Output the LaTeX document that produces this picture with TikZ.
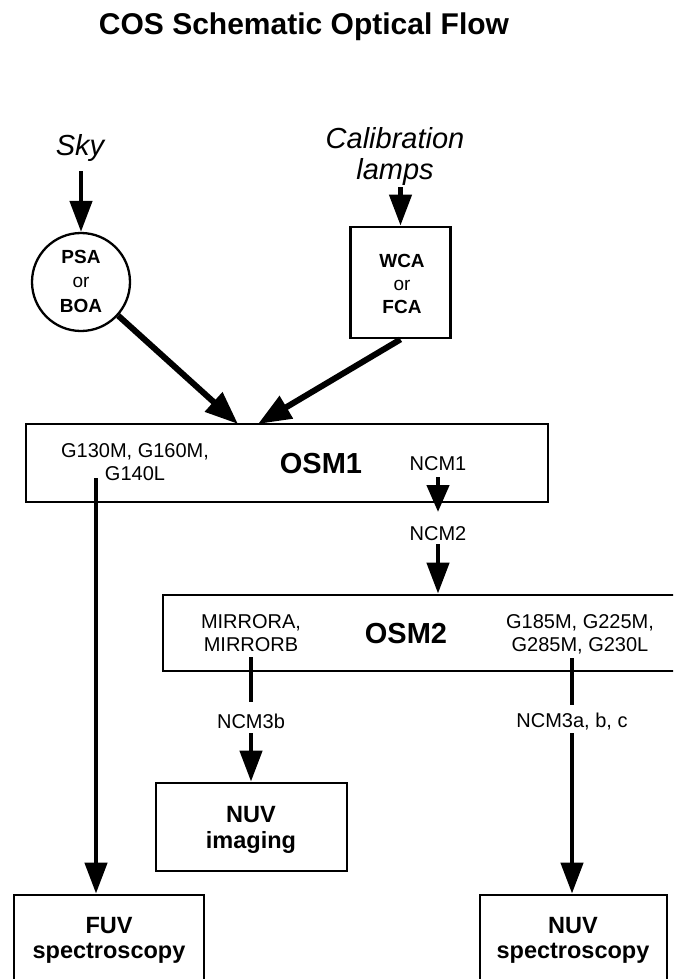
\documentclass[tikz,border=0pt]{standalone}
\usepackage{fontspec}
\setmainfont{Liberation Sans}
\usetikzlibrary{arrows.meta}
\newcommand{\stk}[1]{\begin{tabular}[t]{@{}c@{}}#1\end{tabular}}
\begin{document}
\begin{tikzpicture}[x=1pt,y=-1pt,
  txt/.style={anchor=base, inner sep=0pt},
  small/.style={txt, font=\fontsize{20}{23.5}\selectfont},
  tiny/.style={txt, font=\fontsize{19}{#1}\selectfont},
  big/.style={txt, font=\fontsize{29}{34}\selectfont\bfseries},
  src/.style={txt, font=\fontsize{29}{32}\selectfont\itshape},
  lbl/.style={txt, font=\fontsize{23.5}{#1}\selectfont\bfseries},
  frame/.style={draw, line width=2.8pt, rectangle, inner sep=0pt},
  arr/.style={line width=4.5pt, -{Triangle[length=31pt,width=22pt]}},
  diag/.style={line width=6pt, -{Triangle[length=33pt,width=25pt]}},
  stem/.style={line width=4.5pt}]
\useasboundingbox (0,0) rectangle (673,979);
\clip (0,0) rectangle (673,979);

% title
\node[txt, font=\fontsize{30}{36}\selectfont\bfseries] (title) at (304,35) {COS Schematic Optical Flow};

% sources
\node[src] (sky) at (80,155) {Sky};
\node[src] (cal) at (395,148) {\stk{Calibration\\lamps}};

% apertures
\node[draw, circle, line width=2.3pt, minimum size=98pt, inner sep=0pt] (psa) at (81,282) {};
\node[tiny=24.5] (psatext) at (81,263) {\stk{\textbf{PSA}\\or\\\textbf{BOA}}};
\node[frame, minimum width=100pt, minimum height=111pt] (wca) at (400.5,282.5) {};
\node[tiny=23] (wcatext) at (402,267) {\stk{\textbf{WCA}\\or\\\textbf{FCA}}};

% OSM1
\node[frame, minimum width=522pt, minimum height=78pt] (osm1) at (287,463) {};
\node[small] (g1) at (135,457) {\stk{G130M, G160M,\\G140L}};
\node[big] (osm1text) at (321,473) {OSM1};
\node[small] (ncm1) at (438,470) {NCM1};
\node[small] (ncm2) at (438,540) {NCM2};

% OSM2
\node[frame, minimum width=530pt, minimum height=76pt] (osm2) at (428,633) {};
\node[small] (mir) at (251,628) {\stk{MIRRORA,\\MIRRORB}};
\node[big] (osm2text) at (406,643) {OSM2};
\node[small] (g2) at (580,628) {\stk{G185M, G225M,\\G285M, G230L}};
\node[small] (ncm3b) at (251,728) {NCM3b};
\node[small] (ncm3a) at (572,727) {NCM3a, b, c};

% detectors
\node[frame, minimum width=191pt, minimum height=88pt] (nuvimg) at (251.5,827) {};
\node[lbl=26] (nuvimgtext) at (251,822) {\stk{NUV\\imaging}};
\node[frame, minimum width=190pt, minimum height=100pt] (fuv) at (109,945) {};
\node[lbl=25] (fuvtext) at (109,933) {\stk{FUV\\spectroscopy}};
\node[frame, minimum width=187pt, minimum height=100pt] (nuvspec) at (573.5,945) {};
\node[lbl=25] (nuvspectext) at (573,933) {\stk{NUV\\spectroscopy}};

% free ends
\coordinate (skyfoot) at (81,171);
\coordinate (calfoot) at (400.5,187);
\coordinate (tipA) at (238,424);
\coordinate (tipB) at (258,424);
\coordinate (g140) at (96,478);
\coordinate (mirfoot) at (251,657);
\coordinate (g2foot) at (572,658);

% connectors
\draw[arr] (skyfoot) -- (psa.north);
\draw[arr] (calfoot) -- (wca.north);
\draw[diag] (psa) -- (tipA);
\draw[diag] (wca.south) -- (tipB);
\draw[arr, -{Triangle[length=27pt,width=22pt]}] ([yshift=-7pt]ncm1.base) -- ([yshift=28pt]ncm2.base);
\draw[arr] ([yshift=-4pt]ncm2.base) -- (ncm2.base |- osm2.north);
\draw[arr] (g140) -- (g140 |- fuv.north);
\draw[stem] (mirfoot) -- ([yshift=26pt]ncm3b.base);
\draw[arr] ([yshift=-5pt]ncm3b.base) -- (ncm3b.base |- nuvimg.north);
\draw[stem] (g2foot) -- ([yshift=22pt]ncm3a.base);
\draw[arr] ([yshift=-6pt]ncm3a.base) -- (ncm3a.base |- nuvspec.north);
\end{tikzpicture}
\end{document}
